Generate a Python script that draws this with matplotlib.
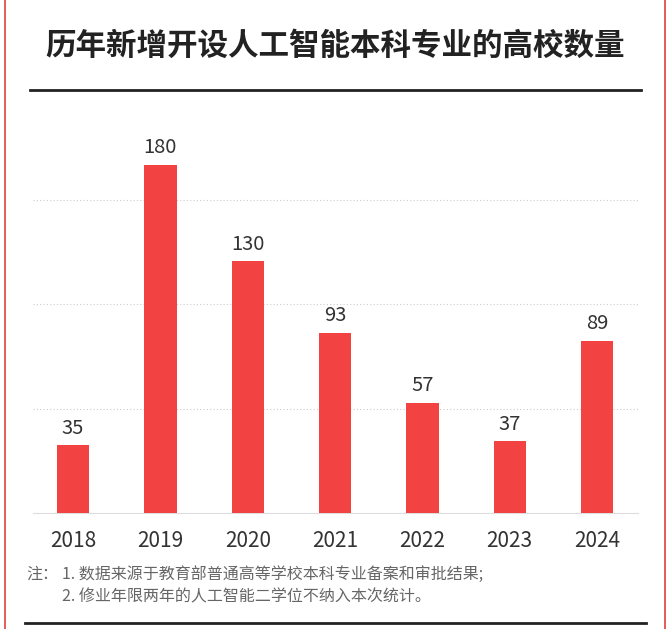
import matplotlib
matplotlib.use("Agg")
import matplotlib.pyplot as plt
from matplotlib.lines import Line2D
from matplotlib.patches import Rectangle

plt.rcParams['font.family'] = ['Noto Sans CJK SC', 'DejaVu Sans']

years = ["2018", "2019", "2020", "2021", "2022", "2023", "2024"]
counts = [35, 180, 130, 93, 57, 37, 89]
title = "历年新增开设人工智能本科专业的高校数量"
notes = ["注：", "1. 数据来源于教育部普通高等学校本科专业备案和审批结果;", "2. 修业年限两年的人工智能二学位不纳入本次统计。"]

fig = plt.figure(figsize=(6.71, 6.29), dpi=100)
ax = fig.add_axes([0.049, 0.1844, 0.902, 0.6645])
x = range(len(years))
ax.bar(x, counts, width=0.37, color="#f24242", zorder=3)
for i, v in zip(x, counts):
    ax.text(i, v + 3.5, str(v), ha="center", va="bottom", fontsize=14.5, color="#333333")
ax.set_xlim(-0.46, 6.47)
ax.set_ylim(0, 216)
ax.set_yticks([54, 108, 162])
ax.yaxis.grid(True, linestyle=(0, (1, 2)), color="#cccccc", linewidth=0.8)
ax.set_yticklabels([])
ax.tick_params(left=False, bottom=False)
ax.set_xticks(list(x))
ax.set_xticklabels(years, fontsize=15, color="#333333")
ax.tick_params(axis="x", pad=9)
for s in ["top", "right", "left"]:
    ax.spines[s].set_visible(False)
ax.spines["bottom"].set_color("#dddddd")

fig.text(0.5, 1 - 46/629, title, ha="center", va="center", fontsize=22, fontweight="bold", color="#222222")
fig.add_artist(Line2D([30/671, 641/671], [1 - 90/629]*2, color="#222222", linewidth=2))
fig.add_artist(Line2D([25/671, 646/671], [1 - 623/629]*2, color="#222222", linewidth=2))
fig.text(26/671, 1 - 574/629, notes[0], ha="left", va="center", fontsize=11.5, color="#666666")
fig.text(62/671, 1 - 574/629, notes[1], ha="left", va="center", fontsize=11.5, color="#666666")
fig.text(62/671, 1 - 597/629, notes[2], ha="left", va="center", fontsize=11.5, color="#666666")
fig.add_artist(Rectangle((5/671, -0.01), 660/671, 1.02, fill=False, edgecolor="#e04040", linewidth=1.2))

fig.savefig("out.png", dpi=100)
